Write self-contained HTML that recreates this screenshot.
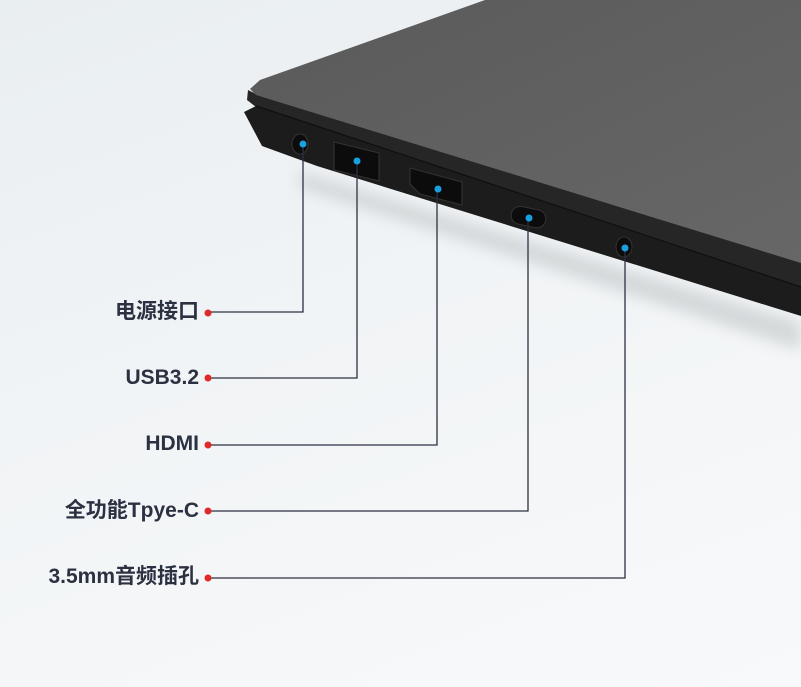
<!DOCTYPE html>
<html><head><meta charset="utf-8"><style>
body{margin:0;width:801px;height:687px;overflow:hidden;background:linear-gradient(160deg,#e9eef1 0%,#f1f4f6 45%,#f8f9fa 100%);position:relative;font-family:"Liberation Sans","Noto Sans CJK SC",sans-serif}
.l{position:absolute;right:602px;font-size:21px;font-weight:bold;color:#2c3142;white-space:nowrap;line-height:24px}
</style></head><body>
<svg width="801" height="687" style="position:absolute;left:0;top:0">
<defs>
<linearGradient id="lid" x1="0" y1="0" x2="1" y2="1"><stop offset="0" stop-color="#5a5a5a"/><stop offset="1" stop-color="#676767"/></linearGradient>
<filter id="bl"><feGaussianBlur stdDeviation="7"/></filter>
</defs>
<polygon points="300,172 801,322 801,350 300,188" fill="#c8ccce" filter="url(#bl)" opacity="0.7"/>
<polygon points="244,112 256,106 801,285 801,316 317,166 262,146" fill="#1c1c1c"/>
<polygon points="248,90 256,94 801,262 801,288 256,107 247,100" fill="#262626"/>
<line x1="256" y1="106" x2="801" y2="287" stroke="#111" stroke-width="1.5"/>
<polygon points="485,0 801,0 801,263 256,95 250,89 260,80" fill="url(#lid)"/>
<g fill="#0c0c0c" stroke="#333" stroke-width="1">
<ellipse cx="300" cy="144" rx="8" ry="10"/>
<polygon points="334,142 379,153 379,181 334,170"/>
<polygon points="410,168 462,182 462,205 420,194 410,184"/>
<rect x="511" y="208" width="35" height="18" rx="9" transform="rotate(12 528 217)"/>
<ellipse cx="624" cy="247" rx="8" ry="10"/>
</g>
<g stroke="#2c3142" stroke-width="1.3" fill="none">
<polyline points="303,144 303,312 208,312"/>
<polyline points="357,161 357,378 208,378"/>
<polyline points="437,189 437,445 208,445"/>
<polyline points="528,218 528,511 208,511"/>
<polyline points="625,248 625,578 208,578"/>
</g>
<g fill="#1aa0e0"><circle cx="303" cy="144" r="3.5"/><circle cx="357" cy="161" r="3.5"/><circle cx="438" cy="189" r="3.5"/><circle cx="529" cy="218" r="3.5"/><circle cx="625" cy="248" r="3.5"/></g>
<g fill="#e02a2a"><circle cx="208" cy="313" r="3.5"/><circle cx="208" cy="378" r="3.5"/><circle cx="208" cy="445" r="3.5"/><circle cx="208" cy="511" r="3.5"/><circle cx="208" cy="578" r="3.5"/></g>
</svg>
<div class="l" style="top:300px">电源接口</div>
<div class="l" style="top:366px">USB3.2</div>
<div class="l" style="top:432px">HDMI</div>
<div class="l" style="top:499px">全功能Tpye-C</div>
<div class="l" style="top:565px">3.5mm音频插孔</div>
</body></html>
